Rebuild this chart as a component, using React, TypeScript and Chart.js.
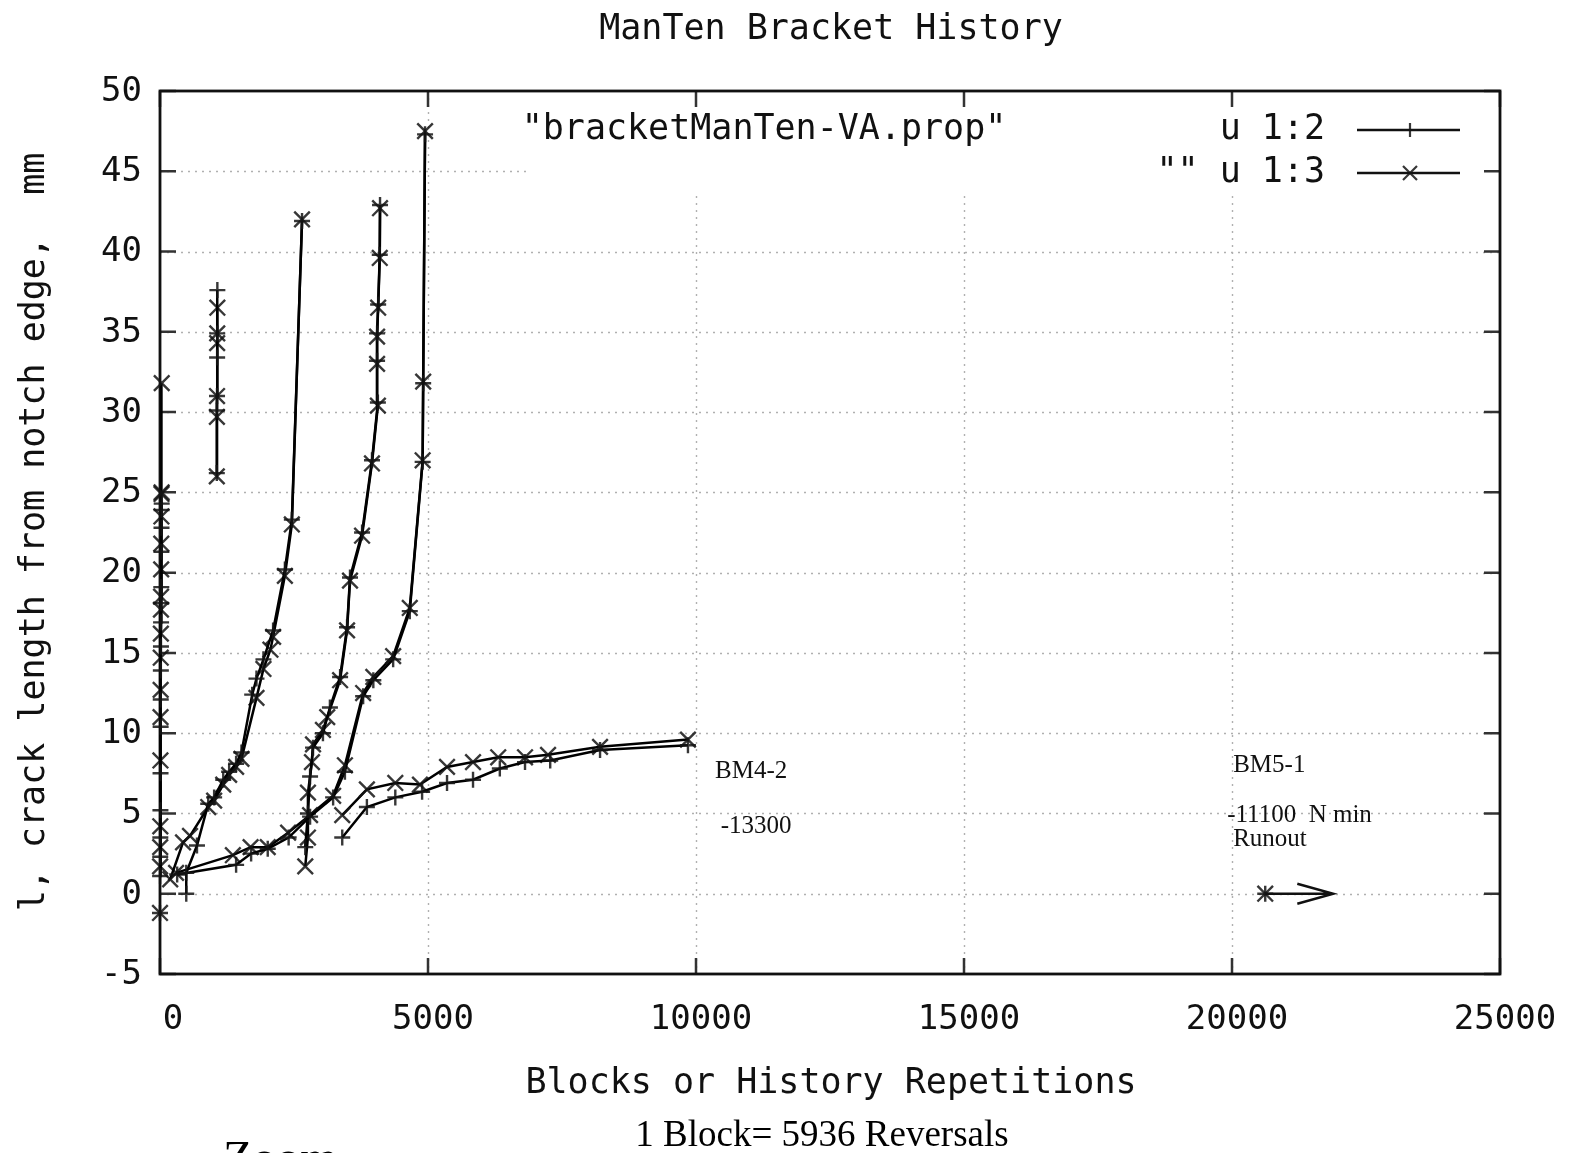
import React, { useEffect, useRef } from 'react';
import { Chart, registerables } from 'chart.js';

Chart.register(...registerables);

type Pt = [number, number];

// ---------- texts ----------
const chartTitle = 'ManTen Bracket History';
const xAxisTitle = 'Blocks or History Repetitions';
const yAxisTitle = 'l, crack length from notch edge,  mm';
const footnote = '1 Block= 5936 Reversals';
const cutText = 'Zoom';
const keyTitle = '"bracketManTen-VA.prop"';
const seriesLabels = ['u 1:2', '"" u 1:3'];

// ---------- axes ----------
const xMin = 0;
const xMax = 25000;
const yMin = -5;
const yMax = 50;
const xTickValues = [0, 5000, 10000, 15000, 20000, 25000];
const yTickValues = [-5, 0, 5, 10, 15, 20, 25, 30, 35, 40, 45, 50];

// ---------- data blocks: [blocks, crack length] ----------
// column 2 ("+") and column 3 ("x") of each test block
const colNearZeroPlus: Pt[] = [[2, 1.1], [4, 2.3], [6, 3.5], [8, 5.2], [10, 7.5], [12, 10.4], [14, 12.1], [16, 13.9], [18, 15.4], [20, 16.9], [22, 18.1], [24, 19.1], [26, 21.3], [28, 22.8], [30, 23.9], [32, 24.3]];
const colNearZeroCross: Pt[] = [[2, 1.7], [4, 2.9], [6, 4.2], [8, 8.3], [10, 11.0], [12, 12.7], [14, 14.7], [16, 16.2], [18, 17.7], [20, 18.5], [22, 20.2], [24, 21.8], [26, 23.5], [28, 24.9], [30, 25.0], [32, 31.8]];

const negPointPlus: Pt[] = [[0, -1.2]];
const negPointCross: Pt[] = [[0, -1.2]];

const col1000Plus: Pt[] = [[1060, 26.2], [1062, 30.1], [1064, 31.0], [1066, 33.4], [1068, 34.9], [1070, 37.6]];
const col1000Cross: Pt[] = [[1060, 26.0], [1062, 29.7], [1064, 31.0], [1066, 34.3], [1068, 34.9], [1070, 36.5]];

const testAPlus: Pt[] = [[490, 0], [490, 1.3], [690, 3.0], [900, 5.6], [1010, 6.0], [1180, 7.1], [1290, 7.6], [1420, 8.1], [1520, 8.8], [1720, 12.4], [1800, 13.4], [1930, 14.6], [2110, 16.4], [2330, 20.2], [2460, 23.3], [2650, 41.9]];
const testACross: Pt[] = [[190, 0.9], [430, 3.2], [560, 3.6], [900, 5.4], [1010, 5.8], [1180, 6.8], [1290, 7.4], [1420, 7.9], [1520, 8.4], [1800, 12.2], [1930, 14.0], [2060, 15.2], [2110, 16.0], [2330, 19.8], [2460, 23.0], [2650, 42.0]];

const testBPlus: Pt[] = [[320, 1.2], [1420, 1.8], [1700, 2.5], [2010, 2.8], [2400, 3.5], [2800, 4.8], [3230, 6.0], [3450, 7.6], [3790, 12.3], [3980, 13.3], [4350, 14.6], [4660, 17.6], [4900, 26.9], [4910, 31.8], [4945, 47.3]];
const testBCross: Pt[] = [[300, 1.3], [1360, 2.4], [1690, 2.9], [2010, 2.9], [2390, 3.8], [2800, 4.9], [3230, 6.1], [3450, 8.0], [3790, 12.5], [3980, 13.5], [4350, 14.8], [4660, 17.8], [4900, 27.0], [4910, 31.9], [4945, 47.5]];

const testCPlus: Pt[] = [[2710, 2.9], [2760, 5.0], [2800, 7.3], [2855, 9.1], [3040, 10.0], [3170, 11.6], [3360, 13.5], [3490, 16.6], [3545, 19.7], [3770, 22.5], [3955, 27.0], [4065, 30.6], [4050, 33.2], [4050, 34.9], [4070, 36.7], [4100, 39.8], [4105, 42.9]];
const testCCross: Pt[] = [[2710, 1.7], [2760, 3.5], [2760, 6.3], [2835, 8.2], [2855, 9.3], [3040, 10.2], [3120, 11.0], [3360, 13.3], [3490, 16.4], [3545, 19.5], [3770, 22.3], [3955, 26.8], [4065, 30.4], [4050, 33.0], [4050, 34.7], [4070, 36.5], [4100, 39.6], [4105, 42.7]];

const testEPlus: Pt[] = [[3400, 3.5], [3860, 5.4], [4390, 6.0], [4890, 6.35], [5355, 6.9], [5840, 7.1], [6340, 7.8], [6810, 8.2], [7280, 8.3], [8210, 8.95], [9850, 9.25]];
const testECross: Pt[] = [[3400, 4.9], [3860, 6.5], [4390, 6.9], [4850, 6.8], [5355, 7.9], [5840, 8.2], [6310, 8.5], [6810, 8.5], [7240, 8.65], [8210, 9.15], [9850, 9.6]];

const runoutPlus: Pt[] = [[20620, 0]];
const runoutCross: Pt[] = [[20620, 0]];

const plusBlocks: Pt[][] = [colNearZeroPlus, negPointPlus, col1000Plus, testAPlus, testBPlus, testCPlus, testEPlus, runoutPlus];
const crossBlocks: Pt[][] = [colNearZeroCross, negPointCross, col1000Cross, testACross, testBCross, testCCross, testECross, runoutCross];

// runout arrow (data coords)
const arrowFrom: Pt = [20620, 0];
const arrowTo: Pt = [21890, 0];

// text labels anchored in data coords (left edge, vertical middle)
const noteTexts = ['BM4-2', '-13300', 'BM5-1', '-11100  N min', 'Runout'];
const noteX = [10356, 10460, 20022, 19910, 20022];
const noteY = [7.6, 4.17, 8.0, 4.9, 3.36];

// ---------- styling ----------
const MONO = '"DejaVu Sans Mono", monospace';
const SERIF = '"Liberation Serif", "DejaVu Serif", serif';
const W = 1575;
const H = 1153;
const AREA = { left: 160, top: 91, right: 1500, bottom: 974 };
const KEY_BLANK = { left: 527, top: 92, right: 1499, bottom: 194 };

function drawPlus(ctx: CanvasRenderingContext2D, x: number, y: number, r: number) {
  ctx.beginPath();
  ctx.moveTo(x - r, y);
  ctx.lineTo(x + r, y);
  ctx.moveTo(x, y - r);
  ctx.lineTo(x, y + r);
  ctx.stroke();
}
function drawCross(ctx: CanvasRenderingContext2D, x: number, y: number, r: number) {
  ctx.beginPath();
  ctx.moveTo(x - r, y - r);
  ctx.lineTo(x + r, y + r);
  ctx.moveTo(x - r, y + r);
  ctx.lineTo(x + r, y - r);
  ctx.stroke();
}

const framePlugin = {
  id: 'gnuplotFrame',
  beforeDraw(chart: any) {
    const ctx = chart.ctx as CanvasRenderingContext2D;
    ctx.save();
    ctx.fillStyle = '#ffffff';
    ctx.fillRect(0, 0, chart.width, chart.height);
    ctx.restore();
  },
  beforeDatasetsDraw(chart: any) {
    const ctx = chart.ctx as CanvasRenderingContext2D;
    const a = chart.chartArea;
    const xs = chart.scales.x;
    const ys = chart.scales.y;
    ctx.save();
    // dotted grid
    ctx.strokeStyle = '#b0b0b0';
    ctx.lineWidth = 1.4;
    ctx.setLineDash([2, 5]);
    yTickValues.forEach((v) => {
      if (v === yMin || v === yMax) return;
      const y = Math.round(ys.getPixelForValue(v)) + 0.5;
      ctx.beginPath();
      ctx.moveTo(a.left, y);
      ctx.lineTo(a.right, y);
      ctx.stroke();
    });
    xTickValues.forEach((v) => {
      if (v === xMin || v === xMax) return;
      const x = Math.round(xs.getPixelForValue(v)) + 0.5;
      ctx.beginPath();
      ctx.moveTo(x, a.top);
      ctx.lineTo(x, a.bottom);
      ctx.stroke();
    });
    ctx.setLineDash([]);
    // opaque key region
    ctx.fillStyle = '#ffffff';
    ctx.fillRect(KEY_BLANK.left, KEY_BLANK.top, KEY_BLANK.right - KEY_BLANK.left, KEY_BLANK.bottom - KEY_BLANK.top);

    // tick marks (inward, mirrored)
    const tl = 16;
    ctx.strokeStyle = '#333';
    ctx.lineWidth = 2.5;
    yTickValues.forEach((v) => {
      const y = ys.getPixelForValue(v);
      ctx.beginPath();
      ctx.moveTo(a.left, y);
      ctx.lineTo(a.left + tl, y);
      ctx.moveTo(a.right, y);
      ctx.lineTo(a.right - tl, y);
      ctx.stroke();
    });
    xTickValues.forEach((v) => {
      const x = xs.getPixelForValue(v);
      ctx.beginPath();
      ctx.moveTo(x, a.bottom);
      ctx.lineTo(x, a.bottom - tl);
      ctx.moveTo(x, a.top);
      ctx.lineTo(x, a.top + tl);
      ctx.stroke();
    });
    // border
    ctx.strokeStyle = '#111';
    ctx.lineWidth = 2.8;
    ctx.strokeRect(a.left, a.top, a.right - a.left, a.bottom - a.top);
    ctx.restore();
  },
  afterDatasetsDraw(chart: any) {
    const ctx = chart.ctx as CanvasRenderingContext2D;
    const a = chart.chartArea;
    const xs = chart.scales.x;
    const ys = chart.scales.y;
    ctx.save();
    ctx.fillStyle = '#111';

    // tick labels
    ctx.font = `34px ${MONO}`;
    ctx.textAlign = 'right';
    ctx.textBaseline = 'middle';
    yTickValues.forEach((v) => {
      ctx.fillText(String(v), a.left - 18, ys.getPixelForValue(v) + 1);
    });
    ctx.textAlign = 'center';
    xTickValues.forEach((v) => {
      const off = v === 0 ? 13 : 5;
      ctx.fillText(String(v), xs.getPixelForValue(v) + off, a.bottom + 46);
    });

    // titles
    ctx.font = `35px ${MONO}`;
    ctx.fillText(chartTitle, 831, 30);
    ctx.fillText(xAxisTitle, 831, 1084);
    ctx.save();
    ctx.translate(35, 532);
    ctx.rotate(-Math.PI / 2);
    ctx.fillText(yAxisTitle, 0, 0);
    ctx.restore();

    // key
    ctx.fillText(keyTitle, 764, 130);
    ctx.textAlign = 'right';
    const rowsY = [130, 173];
    seriesLabels.forEach((s, i) => ctx.fillText(s, 1325, rowsY[i]));
    ctx.strokeStyle = '#111';
    ctx.lineWidth = 2.4;
    rowsY.forEach((y) => {
      ctx.beginPath();
      ctx.moveTo(1357, y);
      ctx.lineTo(1460, y);
      ctx.stroke();
    });
    ctx.strokeStyle = 'rgba(20,20,20,0.85)';
    ctx.lineWidth = 2.2;
    drawPlus(ctx, 1410, rowsY[0], 7);
    drawCross(ctx, 1410, rowsY[1], 7);

    // notes
    ctx.font = `25px ${SERIF}`;
    ctx.textAlign = 'left';
    ctx.textBaseline = 'middle';
    noteTexts.forEach((t, i) => {
      ctx.fillText(t, xs.getPixelForValue(noteX[i]), ys.getPixelForValue(noteY[i]));
    });

    // runout arrow
    const x0 = xs.getPixelForValue(arrowFrom[0]);
    const y0 = ys.getPixelForValue(arrowFrom[1]);
    const x1 = xs.getPixelForValue(arrowTo[0]);
    const y1 = ys.getPixelForValue(arrowTo[1]);
    ctx.strokeStyle = '#111';
    ctx.lineWidth = 2.4;
    ctx.beginPath();
    ctx.moveTo(x0, y0);
    ctx.lineTo(x1, y1);
    ctx.moveTo(x1 - 36, y1 - 10);
    ctx.lineTo(x1, y1);
    ctx.lineTo(x1 - 36, y1 + 10);
    ctx.stroke();

    // footnote and cut-off text
    ctx.fillStyle = '#000';
    ctx.font = `37px ${SERIF}`;
    ctx.textAlign = 'center';
    ctx.textBaseline = 'middle';
    ctx.fillText(footnote, 822, 1136);
    ctx.font = `48px ${SERIF}`;
    ctx.textAlign = 'left';
    ctx.textBaseline = 'alphabetic';
    ctx.fillText(cutText, 223, 1174);
    ctx.restore();
  },
};

function makeDataset(pts: Pt[], kind: 'plus' | 'cross') {
  return {
    data: pts.map(([x, y]) => ({ x, y })),
    showLine: true,
    borderColor: '#000000',
    borderWidth: 2.5,
    tension: 0,
    pointStyle: kind === 'plus' ? 'cross' : 'crossRot',
    pointRadius: kind === 'plus' ? 8 : 11,
    pointHoverRadius: kind === 'plus' ? 8 : 11,
    pointBorderColor: 'rgba(20,20,20,0.85)',
    pointBackgroundColor: 'rgba(0,0,0,0)',
    pointBorderWidth: 2.4,
    clip: false as any,
  };
}

export default function App() {
  const canvasRef = useRef<HTMLCanvasElement | null>(null);

  useEffect(() => {
    document.body.style.margin = '0';
    const canvas = canvasRef.current;
    if (!canvas) return;
    const datasets = [
      ...plusBlocks.map((b) => makeDataset(b, 'plus')),
      ...crossBlocks.map((b) => makeDataset(b, 'cross')),
    ];
    const chart = new Chart(canvas, {
      type: 'scatter',
      data: { datasets: datasets as any },
      options: {
        responsive: false,
        animation: false,
        devicePixelRatio: 1,
        layout: {
          padding: { left: AREA.left, top: AREA.top, right: W - AREA.right, bottom: H - AREA.bottom },
        },
        scales: {
          x: { type: 'linear', min: xMin, max: xMax, display: false },
          y: { type: 'linear', min: yMin, max: yMax, display: false },
        },
        plugins: {
          legend: { display: false },
          tooltip: { enabled: false },
          title: { display: false },
        },
        events: [],
      },
      plugins: [framePlugin as any],
    });
    return () => chart.destroy();
  }, []);

  return (
    <div style={{ width: W, height: H, background: '#fff' }}>
      <canvas ref={canvasRef} width={W} height={H} style={{ display: 'block', width: W, height: H }} />
    </div>
  );
}
